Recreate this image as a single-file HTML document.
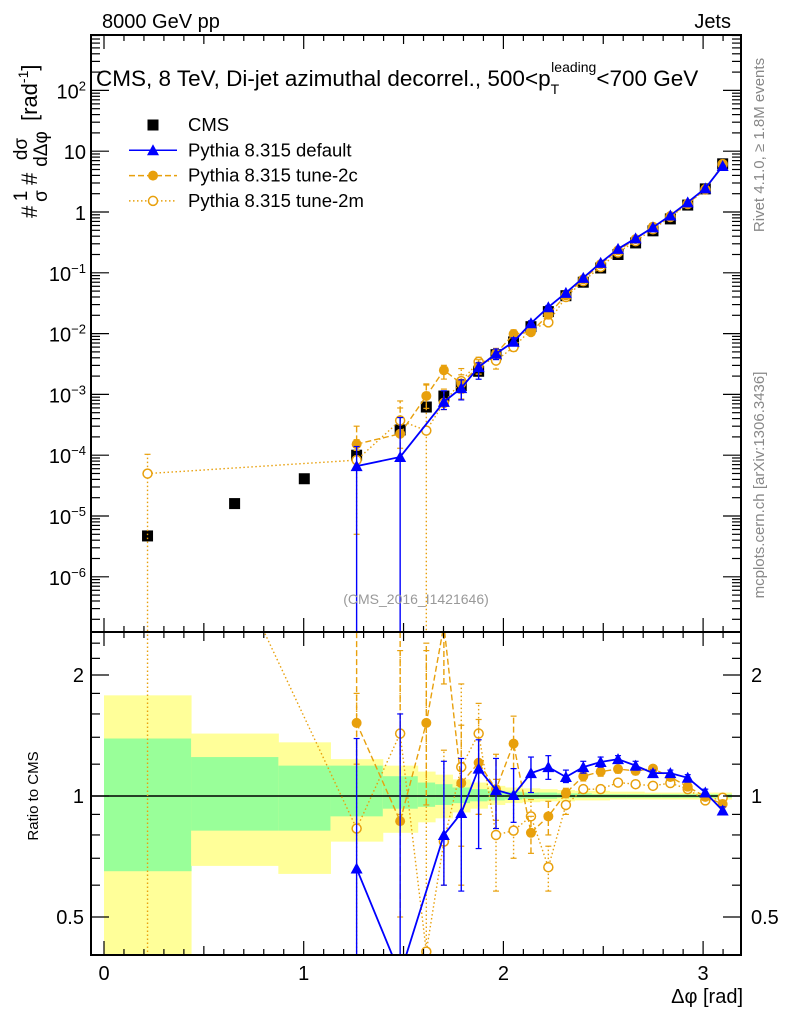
<!DOCTYPE html>
<html><head><meta charset="utf-8"><style>
html,body{margin:0;background:#fff;overflow:hidden;width:786px;height:1024px;}
svg{display:block;font-family:"Liberation Sans",sans-serif;}
</style></head><body>
<svg id="c" width="786" height="1024" viewBox="0 0 786 1024"></svg>
<script>
const xs=[0.218,0.654,1.003,1.265,1.483,1.614,1.702,1.789,1.876,1.963,2.051,2.138,2.225,2.313,2.400,2.487,2.574,2.662,2.749,2.836,2.923,3.011,3.098];
const edges=[0,0.436,0.873,1.134,1.396,1.571,1.658,1.745,1.833,1.920,2.007,2.094,2.182,2.269,2.356,2.443,2.531,2.618,2.705,2.793,2.880,2.967,3.054,3.1416];
const cmsVals=[4.7e-6,1.6e-5,4.1e-5,1.0e-4,2.6e-4,6.2e-4,9.4e-4,1.4e-3,2.4e-3,4.5e-3,7.3e-3,1.3e-2,2.3e-2,4.2e-2,0.07,0.12,0.2,0.31,0.49,0.77,1.3,2.4,6.2];
const totUp=[1.78,1.43,1.36,1.235,1.19,1.15,1.13,1.10,1.08,1.06,1.05,1.045,1.04,1.035,1.03,1.03,1.025,1.025,1.02,1.02,1.02,1.02,1.02];
const totDn=[0.40,0.67,0.64,0.77,0.81,0.86,0.88,0.91,0.93,0.95,0.96,0.965,0.97,0.97,0.975,0.975,0.98,0.98,0.98,0.98,0.98,0.98,0.98];
const statUp=[1.39,1.25,1.19,1.19,1.12,1.08,1.07,1.05,1.04,1.03,1.025,1.02,1.02,1.015,1.015,1.01,1.01,1.01,1.01,1.01,1.01,1.01,1.01];
const statDn=[0.65,0.82,0.82,0.89,0.93,0.94,0.95,0.96,0.97,0.975,0.98,0.985,0.985,0.99,0.99,0.99,0.99,0.99,0.99,0.99,0.99,0.99,0.99];
const defRatio=[null,null,null,0.66,0.36,null,0.80,0.907,1.17,1.035,1.006,1.14,1.18,1.115,1.18,1.215,1.235,1.19,1.14,1.14,1.11,1.02,0.92];
const defErrLo=[null,null,null,0.0001,0.0001,null,0.6,0.58,0.74,0.83,0.86,1.02,1.10,1.08,1.14,1.18,1.21,1.16,1.12,1.12,1.09,1.0,0.9];
const defErrHi=[null,null,null,1.39,1.6,null,1.22,1.24,1.38,1.24,1.17,1.25,1.26,1.16,1.22,1.25,1.26,1.22,1.16,1.16,1.13,1.04,0.94];
const c2Ratio=[null,null,null,1.52,0.866,1.52,2.66,1.077,1.21,1.04,1.35,0.81,0.89,1.017,1.12,1.15,1.167,1.155,1.17,1.115,1.055,0.995,0.955];
const c2ErrLo=[null,null,null,1.2,0.5,0.95,1.9,0.75,0.9,0.87,1.17,0.72,0.80,0.99,1.09,1.12,1.14,1.13,1.15,1.095,1.035,0.975,0.935];
const c2ErrHi=[null,null,null,3,3,2.4,3.2,1.5,1.55,1.27,1.58,0.89,0.97,1.045,1.15,1.18,1.19,1.18,1.19,1.135,1.075,1.015,0.975];
const m2Ratio=[10.6,null,null,0.83,1.43,0.41,0.77,1.18,1.43,0.80,0.82,0.89,0.665,0.95,1.04,1.04,1.08,1.07,1.06,1.077,1.04,0.975,0.99];
const m2ErrLo=[0.0001,null,null,0.05,0.9,0.0001,0.6,0.6,0.9,0.58,0.7,0.8,0.58,0.9,1.02,1.02,1.06,1.05,1.04,1.06,1.02,0.955,0.97];
const m2ErrHi=[22,null,null,1.8,2.3,2.3,1.3,1.9,1.7,1.1,1.0,0.98,0.75,1.0,1.06,1.06,1.1,1.09,1.08,1.095,1.06,0.995,1.01];
const mainYTicks=[[-6,"10<tspan dy='-8' font-size='13'>−6</tspan>"],[-5,"10<tspan dy='-8' font-size='13'>−5</tspan>"],[-4,"10<tspan dy='-8' font-size='13'>−4</tspan>"],[-3,"10<tspan dy='-8' font-size='13'>−3</tspan>"],[-2,"10<tspan dy='-8' font-size='13'>−2</tspan>"],[-1,"10<tspan dy='-8' font-size='13'>−1</tspan>"],[0,"1"],[1,"10"],[2,"10<tspan dy='-8' font-size='13'>2</tspan>"]];
const ratioTicks=[0.5,1,2];
const xTicks=[0,1,2,3];

const L=91,R=741,T=35,MB=632,RB=955;
const clampY=y=>Math.max(0,Math.min(1020,y));
const X=v=>104+v*199.7;
const YM=v=>clampY(212-Math.log10(v)*60.8);
const YR=v=>clampY(796-Math.log2(v)*121);
const svg=document.getElementById('c');
const NS='http://www.w3.org/2000/svg';
function el(tag,attrs,parent){const e=document.createElementNS(NS,tag);for(const k in attrs)e.setAttribute(k,attrs[k]);(parent||svg).appendChild(e);return e;}
function txt(x,y,s,attrs,parent){const e=el('text',Object.assign({x:x,y:y,'font-size':20,fill:'#000'},attrs||{}),parent);e.innerHTML=s;return e;}
const defs=el('defs',{});
const cp1=el('clipPath',{id:'cm'},defs);el('rect',{x:L,y:T,width:R-L,height:MB-T},cp1);
const cp2=el('clipPath',{id:'cr'},defs);el('rect',{x:L,y:MB,width:R-L,height:RB-MB},cp2);

const bands=el('g',{'clip-path':'url(#cr)'});


for(let i=0;i<xs.length;i++){
  const x0=X(edges[i]),x1=X(edges[i+1]);
  const r1=el('rect',{x:x0,y:YR(totUp[i]),width:x1-x0+0.5,height:YR(totDn[i])-YR(totUp[i]),fill:'#ffff99'},bands);
  
  
  const r2=el('rect',{x:x0,y:YR(statUp[i]),width:x1-x0+0.5,height:YR(statDn[i])-YR(statUp[i]),fill:'#99ff99'},bands);
  
  
}
el('line',{x1:L,x2:R,y1:YR(1),y2:YR(1),stroke:'#000','stroke-width':1.5});

function marker(g,type,x,y,col){
  if(type==='sq')return el('rect',{x:x-5.5,y:y-5.5,width:11,height:11,fill:'#000'},g);
  if(type==='tri')return el('polygon',{points:`${x},${y-6} ${x-6},${y+5} ${x+6},${y+5}`,fill:col},g);
  if(type==='dot')return el('circle',{cx:x,cy:y,r:5,fill:col},g);
  return el('circle',{cx:x,cy:y,r:4.5,fill:'#fff',stroke:col,'stroke-width':1.5},g);
}
function series(name,ratio,lo,hi,type,col,dash,main){
  const gm=el('g',{'clip-path':'url(#'+(main?'cm':'cr')+')'});
  
  
  const Y=main?v=>212-Math.log10(v)*60.8:v=>796-Math.log2(v)*121;
  const v=i=>main?cmsVals[i]*ratio[i]:ratio[i];
  let pts=[];
  for(let i=0;i<xs.length;i++) if(ratio[i]!=null) pts.push(X(xs[i])+','+Y(v(i)));
  el('polyline',{points:pts.join(' '),fill:'none',stroke:col,'stroke-width':dash==='none'?1.8:1.4,'stroke-dasharray':dash==='none'?'':dash},gm);
  const Yc=main?YM:YR;
  for(let i=0;i<xs.length;i++){ if(ratio[i]==null)continue;
    const x=X(xs[i]);
    const a=main?cmsVals[i]*lo[i]:lo[i], b=main?cmsVals[i]*hi[i]:hi[i];
    el('line',{x1:x,x2:x,y1:Yc(a),y2:Yc(b),stroke:col,'stroke-width':1.4,'stroke-dasharray':dash==='none'?'':dash},gm);
    el('line',{x1:x-3,x2:x+3,y1:Yc(a),y2:Yc(a),stroke:col,'stroke-width':1.2},gm);
    el('line',{x1:x-3,x2:x+3,y1:Yc(b),y2:Yc(b),stroke:col,'stroke-width':1.2},gm);
    const m=marker(gm,type,x,Yc(v(i)),col);
    
    
  }
}
const gc=el('g',{'clip-path':'url(#cm)'});


for(let i=0;i<xs.length;i++){const m=marker(gc,'sq',X(xs[i]),YM(cmsVals[i]));
  
  }
const O='#e8a00c';
[true,false].forEach(main=>{
  series('tune-2m',m2Ratio,m2ErrLo,m2ErrHi,'open',O,'1.5,2.5',main);
  series('tune-2c',c2Ratio,c2ErrLo,c2ErrHi,'dot',O,'6,3',main);
  series('default',defRatio,defErrLo,defErrHi,'tri','#0000ff','none',main);
});

el('rect',{x:L,y:T,width:R-L,height:MB-T,fill:'none',stroke:'#000','stroke-width':2});
el('rect',{x:L,y:MB,width:R-L,height:RB-MB,fill:'none',stroke:'#000','stroke-width':2});
for(let k=0;k<=32;k++){const v=k/10,x=X(v);if(x>R)break;
  const len=k%10===0?14:(k%5===0?9:6);
  [T,MB].forEach(y=>el('line',{x1:x,x2:x,y1:y,y2:y+len,stroke:'#000','stroke-width':1.2}));
  [MB,RB].forEach(y=>el('line',{x1:x,x2:x,y1:y,y2:y-len,stroke:'#000','stroke-width':1.2}));
}
xTicks.forEach(v=>{const t=txt(X(v),980,String(v),{'text-anchor':'middle'});
  });
for(let d=-7;d<=2;d++){for(let m=1;m<10;m++){const v=m*Math.pow(10,d),y=212-Math.log10(v)*60.8;if(y<T||y>MB)continue;
  const len=m===1?18:9;
  el('line',{x1:L,x2:L+len,y1:y,y2:y,stroke:'#000','stroke-width':1.2});
  el('line',{x1:R,x2:R-len,y1:y,y2:y,stroke:'#000','stroke-width':1.2});}}
mainYTicks.forEach(([d,s])=>{const t=txt(L-5,YM(Math.pow(10,d))+8,s,{'text-anchor':'end'});
  });
[0.4,0.5,0.6,0.7,0.8,0.9,1,1.2,1.4,1.6,1.8,2,2.2,2.4].forEach(v=>{const y=796-Math.log2(v)*121;if(y<MB||y>RB)return;
  const len=(v===0.5||v===1||v===2)?18:9;
  el('line',{x1:L,x2:L+len,y1:y,y2:y,stroke:'#000','stroke-width':1.2});
  el('line',{x1:R,x2:R-len,y1:y,y2:y,stroke:'#000','stroke-width':1.2});});
ratioTicks.forEach(v=>{const a=txt(L-7,YR(v)+7,String(v),{'text-anchor':'end'});
  
  const b=txt(R+10,YR(v)+7,String(v),{'text-anchor':'start'});
  });

txt(102,28,'8000 GeV pp',{});
txt(731,28,'Jets',{'text-anchor':'end'});
txt(96,86,'CMS, 8 TeV, Di-jet azimuthal decorrel., 500&lt;p<tspan dy="8" font-size="14">T</tspan><tspan dy="-22" font-size="14" dx="-8">leading</tspan><tspan dy="14">&lt;700 GeV</tspan>',{'font-size':22.5});
txt(743,1003,'Δφ [rad]',{'text-anchor':'end','font-size':20});
txt(0,0,'Ratio to CMS',{'font-size':15,transform:'translate(38,796) rotate(-90)','text-anchor':'middle'});
const yt=el('g',{transform:'translate(37,218) rotate(-90)'});


txt(0,0,'#',{'font-size':22},yt);
txt(22,-10,'1',{'font-size':19,'text-anchor':'middle'},yt);
txt(22,10,'σ',{'font-size':19,'text-anchor':'middle'},yt);
txt(33,0,'#',{'font-size':22},yt);
txt(69,-10,'dσ',{'font-size':19,'text-anchor':'middle'},yt);
txt(69,10,'dΔφ',{'font-size':19,'text-anchor':'middle'},yt);
txt(97,0,'[rad<tspan dy="-9" font-size="14">-1</tspan><tspan dy="9">]</tspan>',{'font-size':22},yt);
txt(0,0,'Rivet 4.1.0, ≥ 1.8M events',{'font-size':15,fill:'#888',transform:'translate(764,145) rotate(-90)','text-anchor':'middle'});
txt(0,0,'mcplots.cern.ch [arXiv:1306.3436]',{'font-size':15,fill:'#888',transform:'translate(764,485) rotate(-90)','text-anchor':'middle'});
txt(416,604,'(CMS_2016_I1421646)',{'font-size':14,fill:'#999','text-anchor':'middle'});

const lg=el('g',{});


const items=[['CMS','sq','#000',null],['Pythia 8.315 default','tri','#0000ff','none'],['Pythia 8.315 tune-2c','dot',O,'6,3'],['Pythia 8.315 tune-2m','open',O,'1.5,2.5']];
items.forEach((it,i)=>{const y=125+i*25.3;
  const g=el('g',{},lg);
  
  
  if(it[3]!==null)el('line',{x1:129,x2:177,y1:y,y2:y,stroke:it[2],'stroke-width':1.5,'stroke-dasharray':it[3]==='none'?'':it[3]},g);
  marker(g,it[1],153,y,it[2]);
  txt(188,y+6,it[0],{'font-size':18.5},g);
});
</script>
</body></html>
